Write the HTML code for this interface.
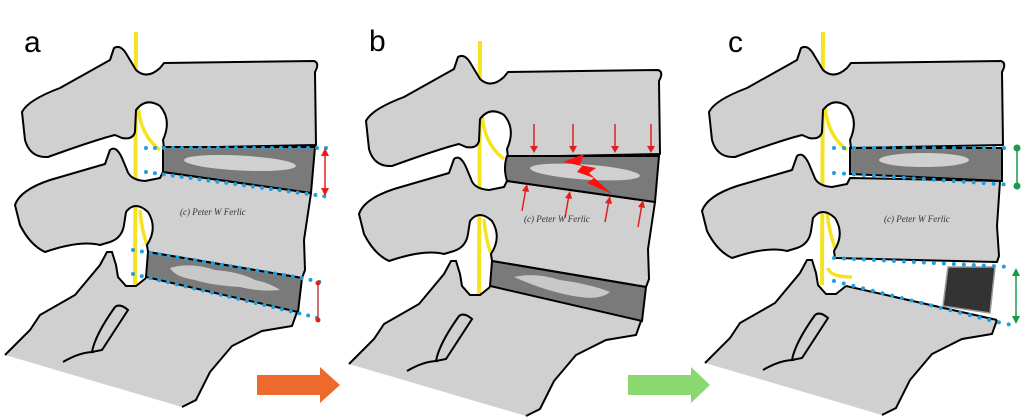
<!DOCTYPE html>
<html><head><meta charset="utf-8"><style>
html,body{margin:0;padding:0;background:#fff;}
svg{display:block}
text{font-family:"Liberation Sans",sans-serif}
.wm{font-family:"Liberation Serif",serif;font-style:italic;font-size:9px;fill:#333}
</style></head><body>
<svg width="1024" height="419" viewBox="0 0 1024 419" xmlns="http://www.w3.org/2000/svg">
<defs>
<g id="sac">
  <path d="M5,355 L30,330 L40,315 L75,295 L100,265 L107,252 L112,252 L116,265 L118,277 L126,286 L136,286 L146,278 L297,312 L292,326 L262,331 L232,346 L210,372 L196,400 L182,407 Z" fill="#d0d0d0" stroke="none"/>
  <path d="M5,355 L30,330 L40,315 L75,295 L100,265 L107,252 L112,252 L116,265 L118,277 L126,286 L136,286 L146,278" fill="none" stroke="#000" stroke-width="2"/>
  <path d="M297,312 L292,326 L262,331 L232,346 L210,372 L196,400 L182,407" fill="none" stroke="#000" stroke-width="2"/>
  <path d="M115,307 Q120,303 128,310 L102,350 L92,352 Q95,335 115,307 Z" fill="#d0d0d0" stroke="#000" stroke-width="2"/>
  <path d="M63,362 Q80,352 94,352" fill="none" stroke="#000" stroke-width="2"/>
</g>
<g id="v1">
  <path d="M110,60 L114,48 Q121,44 127,55 L136,70 Q147,80 160,68 L164,63 L314,61 Q320,63 315,72 L316,145 L164,148 L163,140 Q172,120 160,106 Q146,97 136,110 L135,132 Q133,140 122,138 L115,135 Q95,140 48,157 Q30,158 25,140 L22,112 Q28,100 60,88 Z" fill="#d0d0d0" stroke="#000" stroke-width="2" stroke-linejoin="round"/>
</g>
<g id="v2">
  <path d="M110,150 Q116,145 122,158 L127,170 Q130,180 145,181 L160,178 L163,172 L311,193 L304,240 L305,270 L302,278 L148,252 L147,245 Q158,228 148,212 Q135,200 126,212 L124,225 Q122,238 110,242 L100,245 Q80,240 45,252 Q30,245 20,225 L15,205 Q20,190 50,180 L105,164 Z" fill="#d0d0d0" stroke="#000" stroke-width="2" stroke-linejoin="round"/>
</g>
<g id="v2c">
  <path d="M110,150 Q116,145 122,158 L127,170 Q130,180 145,181 L160,178 L163,172 L313,175 L310,220 L312,250 L310,256 L148,252 L147,245 Q158,228 148,212 Q135,200 126,212 L124,225 Q122,238 110,242 L100,245 Q80,240 45,252 Q30,245 20,225 L15,205 Q20,190 50,180 L105,164 Z" fill="#d0d0d0" stroke="#000" stroke-width="2" stroke-linejoin="round"/>
</g>
<g id="nerve">
  <path d="M136,32 L135,285" stroke="#f5e320" stroke-width="4" fill="none"/>
  <path d="M138,105 Q140,135 160,150" stroke="#f5e320" stroke-width="3.5" fill="none"/>
  <path d="M140,210 Q142,235 150,252" stroke="#f5e320" stroke-width="3.5" fill="none"/>
</g>
</defs>

<!-- Panel a -->
<text x="24" y="52" font-size="30">a</text>
<use href="#nerve"/>
<use href="#sac"/><use href="#v1"/><use href="#v2"/>
<path d="M163,147 L315,147 L311,193 L163,172 Z" fill="#7a7a7a" stroke="#000" stroke-width="2"/>
<ellipse cx="240" cy="163" rx="56" ry="7.5" transform="rotate(3 240 163)" fill="#d0d0d0"/>
<path d="M148,252 L302,278 L298,312 L146,277 Z" fill="#7a7a7a" stroke="#000" stroke-width="2"/>
<path d="M170,268 Q190,262 215,270 Q240,272 255,280 Q270,283 280,290 Q260,292 240,287 Q210,285 195,280 Q175,277 170,268 Z" fill="#c8c8c8"/>
<g stroke="#1ea0e0" stroke-width="4" stroke-linecap="round" stroke-dasharray="0 9" fill="none">
 <path d="M146,148 L330,148"/><path d="M146,172 L330,197"/>
 <path d="M133,250 L302,278 L320,282"/><path d="M133,274 L298,313 L318,318"/>
</g>
<path d="M325,152 L325,192" stroke="#e02020" stroke-width="1.5"/>
<path d="M321,156 L325,148 L329,156Z M321,188 L325,196 L329,188Z" fill="#e02020"/>
<path d="M318,284 L318,318" stroke="#c04040" stroke-width="1.5"/>
<circle cx="318" cy="283" r="2.5" fill="#e02020"/><circle cx="318" cy="320" r="2.5" fill="#e02020"/>
<text class="wm" x="180" y="215">(c) Peter W Ferlic</text>

<!-- Panel b -->
<text x="369" y="51" font-size="30">b</text>
<g transform="translate(344,9)"><use href="#nerve"/><use href="#sac"/><use href="#v1"/><use href="#v2"/></g>
<path d="M507,156 L659,156 L655,202 L507,181 Q503,168 507,156 Z" fill="#7a7a7a" stroke="#000" stroke-width="2"/>
<ellipse cx="585" cy="172" rx="55" ry="7.5" transform="rotate(4 585 172)" fill="#d0d0d0"/>
<path d="M492,261 L646,287 L642,321 L490,286 Z" fill="#7a7a7a" stroke="#000" stroke-width="2"/>
<path d="M514,277 Q535,272 560,280 Q590,284 610,292 Q600,300 580,297 Q550,293 514,277 Z" fill="#c8c8c8"/>
<path d="M563,162 L584,154 L580,165 L596,168 L589,173 L612,194 L587,183 L594,178 L577,172 L582,166 Z" fill="#ff1010"/>
<g stroke="#e02020" stroke-width="1.5" fill="none">
 <path d="M534,124 L534,151"/><path d="M573,124 L573,151"/><path d="M615,124 L615,151"/><path d="M651,124 L651,151"/>
 <path d="M522,211 L526,188"/><path d="M565,218 L569,195"/><path d="M605,222 L609,200"/><path d="M638,227 L642,204"/>
</g>
<g fill="#e02020">
 <path d="M530,146 L534,153 L538,146Z M569,146 L573,153 L577,146Z M611,146 L615,153 L619,146Z M647,146 L651,153 L655,146Z"/>
 <path d="M522,191 L527,184 L529,192Z M565,198 L570,191 L572,199Z M605,203 L610,196 L612,204Z M638,207 L643,200 L645,208Z"/>
</g>
<text class="wm" x="524" y="222">(c) Peter W Ferlic</text>

<!-- Panel c -->
<text x="728" y="52" font-size="30">c</text>
<g transform="translate(687,0)"><use href="#nerve"/></g>
<g transform="translate(700,8)"><use href="#sac"/></g>
<path d="M846,286 L997,320" stroke="#000" stroke-width="2"/>
<g transform="translate(687,0)"><use href="#v1"/></g>
<g transform="translate(687,6)"><use href="#v2c"/></g>
<path d="M850,148 L1002,148 L1002,181 L850,174 Z" fill="#7a7a7a" stroke="#000" stroke-width="2"/>
<ellipse cx="924" cy="160" rx="45" ry="7" fill="#d0d0d0"/>
<path d="M828,268 Q830,277 852,277" stroke="#f5e320" stroke-width="3.5" fill="none"/>
<path d="M948,267 L995,267 L990,313 L943,306 Z" fill="#333" stroke="#999" stroke-width="1.5"/>
<g stroke="#1ea0e0" stroke-width="4" stroke-linecap="round" stroke-dasharray="0 10" fill="none">
 <path d="M834,148 L1012,148"/><path d="M834,173 L1012,185"/>
 <path d="M834,258 L1012,267"/><path d="M834,281 L997,322 L1012,325"/>
</g>
<path d="M1017,148 L1017,186" stroke="#1a9a4a" stroke-width="1.5"/>
<circle cx="1017" cy="148" r="3.5" fill="#1a9a4a"/><circle cx="1017" cy="186" r="3.5" fill="#1a9a4a"/>
<path d="M1016,272 L1016,320" stroke="#1a9a4a" stroke-width="1.5"/>
<path d="M1012,276 L1016,268 L1020,276Z M1012,316 L1016,324 L1020,316Z" fill="#1a9a4a"/>
<text class="wm" x="884" y="222">(c) Peter W Ferlic</text>

<!-- arrows -->
<path d="M257,375 L320,375 L320,367 L340,385 L320,403 L320,395 L257,395 Z" fill="#ee6a2c"/>
<path d="M628,375 L691,375 L691,367 L710,385 L691,403 L691,395 L628,395 Z" fill="#8cd870"/>
</svg>
</body></html>
